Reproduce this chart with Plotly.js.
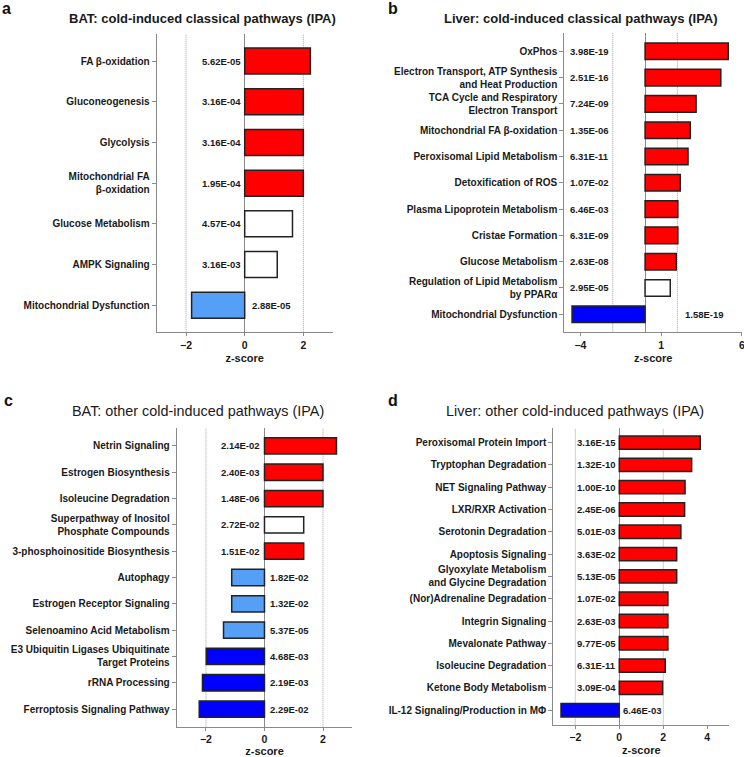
<!DOCTYPE html>
<html>
<head>
<meta charset="utf-8">
<script src="https://cdn.plot.ly/plotly-3.0.1.min.js"></script>
<style>html,body{margin:0;padding:0;background:#fff;}#chart{width:744px;height:757px;}</style>
</head>
<body>
<div id="chart"></div>
<script>
// ---- Panel a: BAT classical pathways ----
const aCats = ['FA β-oxidation','Gluconeogenesis','Glycolysis','Mitochondrial FA<br>β-oxidation','Glucose Metabolism','AMPK Signaling','Mitochondrial Dysfunction'];
const aZ = [2.24, 2.0, 2.0, 2.0, 1.63, 1.11, -1.81];
const aP = ['5.62E-05','3.16E-04','3.16E-04','1.95E-04','4.57E-04','3.16E-03','2.88E-05'];
const aCls = ['up','up','up','up','ns','ns','down'];

// ---- Panel b: Liver classical pathways ----
const bCats = ['OxPhos','Electron Transport, ATP Synthesis<br>and Heat Production','TCA Cycle and Respiratory<br>Electron Transport','Mitochondrial FA β-oxidation','Peroxisomal Lipid Metabolism','Detoxification of ROS','Plasma Lipoprotein Metabolism','Cristae Formation','Glucose Metabolism','Regulation of Lipid Metabolism<br>by PPARα','Mitochondrial Dysfunction'];
const bZ = [5.15, 4.69, 3.16, 2.80, 2.66, 2.18, 2.03, 2.03, 1.93, 1.56, -4.52];
const bP = ['3.98E-19','2.51E-16','7.24E-09','1.35E-06','6.31E-11','1.07E-02','6.46E-03','6.31E-09','2.63E-08','2.95E-05','1.58E-19'];
const bCls = ['up','up','up','up','up','up','up','up','up','ns','strong'];

// ---- Panel c: BAT other pathways ----
const cCats = ['Netrin Signaling','Estrogen Biosynthesis','Isoleucine Degradation','Superpathway of Inositol<br>Phosphate Compounds','3-phosphoinositide Biosynthesis','Autophagy','Estrogen Receptor Signaling','Selenoamino Acid Metabolism','E3 Ubiquitin Ligases Ubiquitinate<br>Target Proteins','rRNA Processing','Ferroptosis Signaling Pathway'];
const cZ = [2.46, 2.0, 2.0, 1.34, 1.34, -1.12, -1.12, -1.40, -1.99, -2.12, -2.23];
const cP = ['2.14E-02','2.40E-03','1.48E-06','2.72E-02','1.51E-02','1.82E-02','1.32E-02','5.37E-05','4.68E-03','2.19E-03','2.29E-02'];
const cCls = ['up','up','up','ns','up','down','down','down','strong','strong','strong'];

// ---- Panel d: Liver other pathways ----
const dCats = ['Peroxisomal Protein Import','Tryptophan Degradation','NET Signaling Pathway','LXR/RXR Activation','Serotonin Degradation','Apoptosis Signaling','Glyoxylate Metabolism<br>and Glycine Degradation','(Nor)Adrenaline Degradation','Integrin Signaling','Mevalonate Pathway','Isoleucine Degradation','Ketone Body Metabolism','IL-12 Signaling/Production in MΦ'];
const dZ = [3.68, 3.29, 2.99, 2.97, 2.80, 2.61, 2.61, 2.21, 2.21, 2.21, 2.09, 1.97, -2.65];
const dP = ['3.16E-15','1.32E-10','1.00E-10','2.45E-06','5.01E-03','3.63E-02','5.13E-05','1.07E-02','2.63E-03','9.77E-05','6.31E-11','3.09E-04','6.46E-03'];
const dCls = ['up','up','up','up','up','up','up','up','up','up','up','up','strong'];

const titles = ['BAT: cold-induced classical pathways (IPA)','Liver: cold-induced classical pathways (IPA)','BAT: other cold-induced pathways (IPA)','Liver: other cold-induced pathways (IPA)'];
const panelLetters = ['a','b','c','d'];

const W = 744, H = 757;
const FONT = 'Arial, "Liberation Sans", Helvetica, sans-serif';
const colorMap = {up:'#FF0000', ns:'#FFFFFF', down:'#569FF7', strong:'#0000FF'};

const panels = [
  {cats:aCats, z:aZ, p:aP, cls:aCls, px:[156.7,332.7], py:[34,332.3], xr:[-3,3.001], tick0:-2, dtick:2, pad:0.665, bw:0.64,
   posX:0, posShift:-2, negX:0, negShift:5, title:{x:203, y:19, bold:true, size:13}, letter:{x:0, y:8}},
  {cats:bCats, z:bZ, p:bP, cls:bCls, px:[564.3,742], py:[33.3,332.3], xr:[-5,6.001], tick0:-4, dtick:5, pad:0.685, bw:0.63,
   posX:-2, posShift:-2, negX:2, negShift:6, title:{x:581, y:19, bold:true, size:13}, letter:{x:386, y:8}},
  {cats:cCats, z:cZ, p:cP, cls:cCls, px:[176.7,352.3], py:[428.3,726.7], xr:[-3,3.001], tick0:-2, dtick:2, pad:0.67, bw:0.62,
   posX:0, posShift:-2, negX:0, negShift:4, title:{x:198, y:411, bold:false, size:14.4}, letter:{x:2, y:400}},
  {cats:dCats, z:dZ, p:dP, cls:dCls, px:[553.3,729.3], py:[428.3,724.5], xr:[-3,5.001], tick0:-2, dtick:2, pad:0.64, bw:0.6,
   posX:0, posShift:-1, negX:0, negShift:2, title:{x:575, y:411, bold:false, size:14.4}, letter:{x:386, y:400}}
];

const data = [];
const layout = {
  width: W, height: H,
  margin: {l:0, r:0, t:0, b:0},
  paper_bgcolor: '#fff', plot_bgcolor: 'rgba(0,0,0,0)',
  showlegend: false,
  font: {family: FONT, color: '#1a1a1a'},
  annotations: [], shapes: []
};

panels.forEach((P, k) => {
  const sfx = k === 0 ? '' : String(k + 1);
  const xa = 'x' + sfx, ya = 'y' + sfx;
  const n = P.cats.length;
  data.push({
    type: 'bar', orientation: 'h',
    x: P.z, y: P.cats,
    xaxis: xa, yaxis: ya,
    width: P.bw,
    marker: {color: P.cls.map(c => colorMap[c]), line: {color: '#222', width: 1.5}},
    hoverinfo: 'x+y'
  });
  layout['xaxis' + sfx] = {
    domain: [P.px[0] / W, P.px[1] / W],
    anchor: ya,
    range: P.xr,
    tick0: P.tick0, dtick: P.dtick, tickmode: 'linear',
    showgrid: false,
    zeroline: true, zerolinecolor: '#8a8a8a', zerolinewidth: 1,
    showline: true, linecolor: '#8a8a8a', linewidth: 1,
    ticks: 'outside', ticklen: 3, tickcolor: '#8a8a8a',
    ticklabeloverflow: 'allow',
    tickfont: {family: FONT, size: 10.5, color: '#1a1a1a', weight: 'bold'},
    title: {text: 'z-score', font: {family: FONT, size: 11, color: '#1a1a1a', weight: 'bold'}, standoff: 4},
    automargin: false, fixedrange: true
  };
  layout['yaxis' + sfx] = {
    domain: [1 - P.py[1] / H, 1 - P.py[0] / H],
    anchor: xa,
    type: 'category',
    categoryorder: 'array', categoryarray: P.cats,
    range: [n - 1 + P.pad, -P.pad],
    showgrid: false, zeroline: false,
    showline: true, linecolor: '#8a8a8a', linewidth: 1,
    ticks: 'outside', ticklen: 4, tickcolor: '#8a8a8a',
    tickfont: {family: FONT, size: 10, color: '#1a1a1a', weight: 'bold'},
    automargin: false, fixedrange: true
  };
  // dotted reference lines at -2 and +2
  [-2, 2].forEach(v => {
    layout.shapes.push({
      type: 'line', xref: xa, yref: ya + ' domain', x0: v, x1: v, y0: 0, y1: 1,
      line: {color: '#a0a0a0', width: 1, dash: '1px,1px'}, layer: 'below'
    });
  });
  // p-value labels
  P.p.forEach((txt, i) => {
    const pos = P.z[i] >= 0;
    layout.annotations.push({
      xref: xa, yref: ya, x: pos ? P.posX : P.negX, y: i,
      xanchor: pos ? 'right' : 'left', yanchor: 'middle',
      xshift: pos ? P.posShift : P.negShift,
      text: txt, showarrow: false,
      font: {family: FONT, size: 9.5, color: '#1a1a1a', weight: 'bold'}
    });
  });
  // panel title
  layout.annotations.push({
    xref: 'paper', yref: 'paper', x: P.title.x / W, y: 1 - P.title.y / H,
    xanchor: 'center', yanchor: 'middle', showarrow: false,
    text: titles[k],
    font: {family: FONT, size: P.title.size, color: '#1a1a1a', weight: P.title.bold ? 'bold' : 'normal'}
  });
  // panel letter
  layout.annotations.push({
    xref: 'paper', yref: 'paper', x: P.letter.x / W, y: 1 - P.letter.y / H,
    xanchor: 'left', yanchor: 'middle', showarrow: false,
    text: panelLetters[k],
    font: {family: FONT, size: 16, color: '#111', weight: 'bold'}
  });
});

Plotly.newPlot('chart', data, layout, {displayModeBar: false, staticPlot: true});
</script>
</body>
</html>
